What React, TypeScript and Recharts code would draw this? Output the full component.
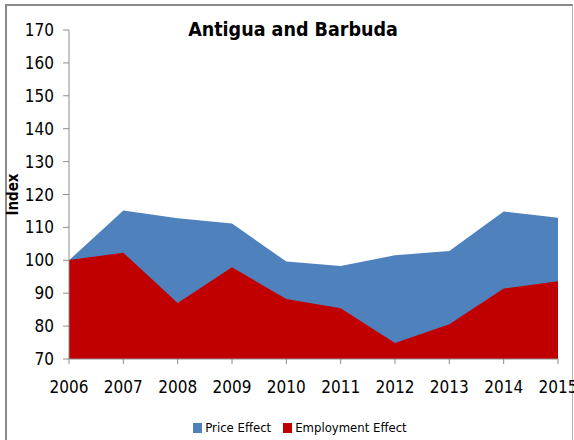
import { AreaChart, Area, XAxis, YAxis } from 'recharts';

const YEARS = ['2006', '2007', '2008', '2009', '2010', '2011', '2012', '2013', '2014', '2015'];
const PRICE_EFFECT = [100, 115.1, 112.8, 111.2, 99.6, 98.3, 101.5, 102.8, 114.8, 112.9];
const EMPLOYMENT_EFFECT = [100.1, 102.3, 87.0, 97.9, 88.2, 85.4, 74.9, 80.6, 91.4, 93.6];
const Y_TICKS = [70, 80, 90, 100, 110, 120, 130, 140, 150, 160, 170];

const SERIES = [
  { key: 'price', name: 'Price Effect', color: '#4F81BD' },
  { key: 'employment', name: 'Employment Effect', color: '#C00000' },
];

const FONT = '"DejaVu Sans Condensed", "Liberation Sans Narrow", sans-serif';
const AXIS = '#8c8c8c';

const rows = YEARS.map((year, i) => ({
  year,
  price: PRICE_EFFECT[i],
  employment: EMPLOYMENT_EFFECT[i],
}));

export default function App() {
  return (
    <div
      style={{
        position: 'absolute',
        left: 0,
        top: 0,
        width: 574,
        height: 440,
        background: '#fff',
        fontFamily: FONT,
        overflow: 'hidden',
      }}
    >
      <div
        style={{
          position: 'absolute',
          left: 5,
          top: 4,
          width: 565,
          height: 460,
          borderTop: '2px solid #8a8a8a',
          borderLeft: '2px solid #8a8a8a',
          borderRight: '1px solid #b5b5b5',
        }}
      />
      <div
        style={{
          position: 'absolute',
          left: 0,
          top: 15,
          width: 586,
          textAlign: 'center',
          fontSize: 19.5,
          fontWeight: 'bold',
          lineHeight: '30px',
          color: '#000',
        }}
      >
        Antigua and Barbuda
      </div>
      <AreaChart
        width={574}
        height={440}
        data={rows}
        margin={{ top: 30, right: 16, bottom: 41, left: 14 }}
        style={{ position: 'absolute', left: 0, top: 0 }}
      >
        <XAxis
          dataKey="year"
          height={40}
          stroke={AXIS}
          tickSize={5}
          tickMargin={17}
          tick={{ fill: '#000', fontSize: 17, fontFamily: FONT }}
          interval={0}
        />
        <YAxis
          width={55}
          domain={[70, 170]}
          ticks={Y_TICKS}
          stroke={AXIS}
          tickSize={6}
          tickMargin={9}
          tick={{ fill: '#000', fontSize: 17, fontFamily: FONT }}
          allowDataOverflow
          label={{
            value: 'Index',
            content: (p: any) => {
              const vb = p.viewBox;
              const cy = vb.y + vb.height / 2;
              return (
                <text
                  x={13}
                  y={cy}
                  transform={`rotate(-90, 13, ${cy})`}
                  textAnchor="middle"
                  dominantBaseline="central"
                  style={{ fontSize: 15, fontWeight: 'bold', fontFamily: FONT, fill: '#000' }}
                >
                  Index
                </text>
              );
            },
          }}
        />
        {SERIES.map((s) => (
          <Area
            key={s.key}
            type="linear"
            dataKey={s.key}
            name={s.name}
            stroke="none"
            fill={s.color}
            fillOpacity={1}
            isAnimationActive={false}
            dot={false}
            activeDot={false}
          />
        ))}
      </AreaChart>
      <div
        style={{
          position: 'absolute',
          left: 0,
          top: 419,
          width: 600,
          display: 'flex',
          justifyContent: 'center',
          gap: 12,
          fontSize: 13,
          lineHeight: '18px',
          color: '#000',
        }}
      >
        {SERIES.map((s) => (
          <span key={s.key} style={{ display: 'inline-flex', alignItems: 'center', gap: 3 }}>
            <span style={{ width: 9, height: 10, background: s.color, display: 'inline-block' }} />
            {s.name}
          </span>
        ))}
      </div>
    </div>
  );
}
